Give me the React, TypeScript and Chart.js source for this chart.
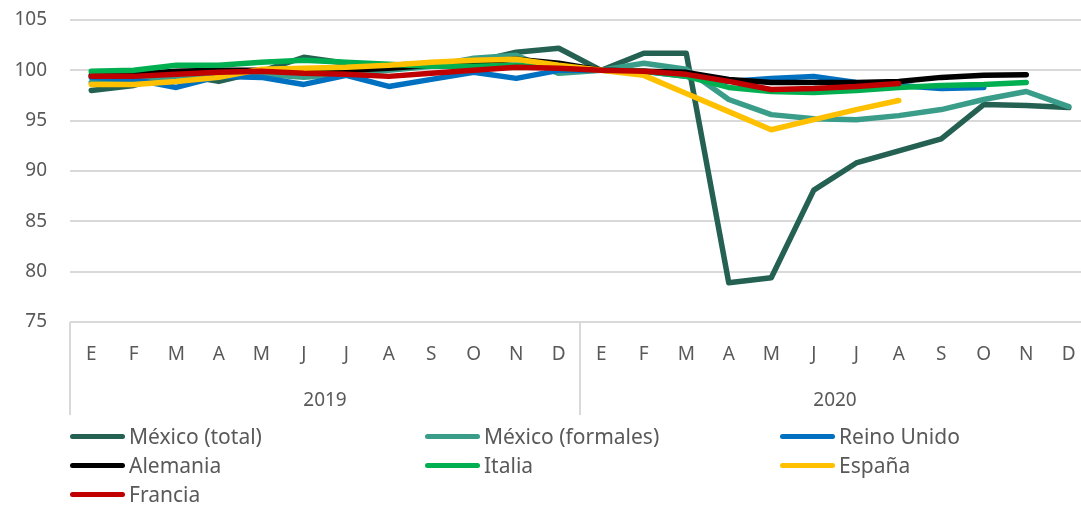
import React, { useEffect, useRef } from "react";
import { Chart, registerables } from "chart.js";

Chart.register(...registerables);

const months = ["E", "F", "M", "A", "M", "J", "J", "A", "S", "O", "N", "D"];
const years = ["2019", "2020"];
const categories = [...months, ...months];

const mexicoTotal = [98.0, 98.5, 99.6, 98.9, 99.9, 101.3, 100.7, 100.5, 100.7, 100.8, 101.8, 102.2, 100.0, 101.7, 101.7, 78.9, 79.4, 88.1, 90.8, 92.0, 93.2, 96.6, 96.5, 96.3];
const mexicoFormales = [98.8, 98.9, 99.4, 99.6, 99.6, 99.3, 99.6, 100.0, 100.4, 101.2, 101.5, 99.7, 100.0, 100.7, 100.1, 97.1, 95.6, 95.2, 95.1, 95.5, 96.1, 97.1, 97.9, 96.4];
const reinoUnido = [99.3, 99.1, 98.3, 99.4, 99.3, 98.6, 99.5, 98.4, 99.1, 99.8, 99.2, 100.0, 100.0, 99.9, 99.4, 98.9, 99.2, 99.4, 98.8, 98.5, 98.2, 98.3, null, null];
const alemania = [99.5, 99.6, 99.9, 100.0, 100.0, 99.9, 100.0, 100.2, 100.5, 100.8, 101.1, 100.7, 100.0, 99.9, 99.8, 99.1, 98.8, 98.8, 98.8, 98.9, 99.3, 99.5, 99.55, null];
const italia = [99.9, 100.0, 100.5, 100.5, 100.8, 101.0, 100.8, 100.6, 100.4, 100.4, 100.5, 100.2, 100.0, 99.9, 99.4, 98.3, 97.9, 97.8, 98.0, 98.3, 98.5, 98.6, 98.8, null];
const espana = [98.6, 98.6, 98.9, 99.3, 100.1, 100.2, 100.3, 100.5, 100.8, 101.0, 101.1, 100.5, 100.0, 99.5, 97.7, 95.9, 94.1, 95.1, 96.1, 97.0, null, null, null, null];
const francia = [99.4, 99.4, 99.6, 99.8, 99.9, 99.7, 99.6, 99.4, 99.7, 100.0, 100.3, 100.2, 100.0, 99.9, 99.6, 98.9, 98.1, 98.2, 98.4, 98.7, null, null, null, null];

const seriesNames = ["México (total)", "México (formales)", "Reino Unido", "Alemania", "Italia", "España", "Francia"];
const seriesData = [mexicoTotal, mexicoFormales, reinoUnido, alemania, italia, espana, francia];
const seriesColors = ["#246152", "#3A9D8A", "#0070C0", "#000000", "#00B050", "#FFC000", "#C00000"];

const FONT = "'Noto Sans', sans-serif";
const TEXT = "#595959";
const GRID = "#d9d9d9";

const groupPlugin = {
  id: "groupAxis",
  afterDraw(chart: any) {
    const xs = chart.scales.x;
    const ctx = chart.ctx;
    const n = categories.length;
    const step = (xs.right - xs.left) / n;
    const top = chart.chartArea.bottom;
    ctx.save();
    ctx.strokeStyle = GRID;
    ctx.lineWidth = 2;
    for (let k = 0; k <= years.length; k++) {
      const x = Math.round(xs.left + k * 12 * step);
      ctx.beginPath();
      ctx.moveTo(x, top);
      ctx.lineTo(x, 415);
      ctx.stroke();
    }
    ctx.fillStyle = TEXT;
    ctx.font = `19px ${FONT}`;
    ctx.textAlign = "center";
    ctx.textBaseline = "middle";
    years.forEach((y, k) => {
      ctx.fillText(y, xs.left + (k + 0.5) * 12 * step, 401);
    });
    ctx.restore();
  },
};

export default function App() {
  const ref = useRef<HTMLCanvasElement>(null);
  useEffect(() => {
    if (!ref.current) return;
    const chart = new Chart(ref.current, {
      type: "line",
      data: {
        labels: categories,
        datasets: seriesNames.map((name, i) => ({
          label: name,
          data: seriesData[i],
          borderColor: seriesColors[i],
          backgroundColor: seriesColors[i],
          borderWidth: 5.5,
          borderCapStyle: "round",
          borderJoinStyle: "round",
          pointRadius: 0,
          tension: 0,
          spanGaps: false,
          order: seriesNames.length - i,
        })),
      },
      options: {
        animation: false,
        responsive: false,
        layout: { padding: { top: 20, right: 0, left: 0, bottom: 0 } },
        plugins: { legend: { display: false }, tooltip: { enabled: false } },
        scales: {
          x: {
            offset: true,
            grid: { display: false, drawTicks: false },
            border: { display: false },
            ticks: {
              color: TEXT,
              font: { family: FONT, size: 19 },
              padding: 21,
              maxRotation: 0,
              autoSkip: false,
            },
            afterFit(scale: any) {
              scale.height = 505 - 322;
              scale.paddingLeft = 0;
              scale.paddingRight = 0;
            },
          },
          y: {
            min: 75,
            max: 105,
            grid: { color: GRID, lineWidth: 2, drawTicks: false },
            border: { display: false },
            ticks: {
              stepSize: 5,
              color: TEXT,
              font: { family: FONT, size: 19 },
              padding: 23,
            },
            afterFit(scale: any) {
              scale.width = 70;
              scale.paddingTop = 0;
              scale.paddingBottom = 0;
            },
          },
        },
      },
      plugins: [groupPlugin],
    });
    return () => chart.destroy();
  }, []);

  const colsX = [70, 425, 780];
  const rowsY = [436, 465, 494];

  return (
    <div style={{ position: "fixed", left: 0, top: 0, width: 1081, height: 505, overflow: "hidden", background: "#fff" }}>
      <div style={{ position: "relative", width: 1090, height: 505 }}>
        <canvas ref={ref} width={1090} height={505} style={{ display: "block" }} />
        {seriesNames.map((name, i) => (
          <div
            key={name}
            style={{
              position: "absolute",
              left: colsX[i % 3],
              top: rowsY[Math.floor(i / 3)] - 14,
              height: 28,
              display: "flex",
              alignItems: "center",
              fontFamily: FONT,
              fontSize: 21,
              color: TEXT,
              whiteSpace: "nowrap",
            }}
          >
            <span style={{ display: "inline-block", width: 55, height: 5, borderRadius: 3, background: seriesColors[i], marginRight: 4 }} />
            <span>{name}</span>
          </div>
        ))}
      </div>
    </div>
  );
}
